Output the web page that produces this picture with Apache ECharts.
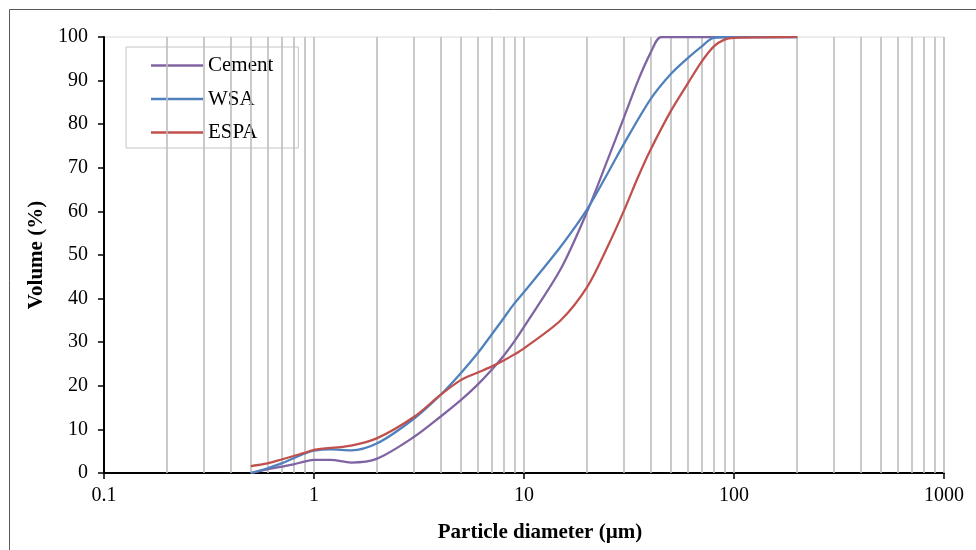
<!DOCTYPE html>
<html>
<head>
<meta charset="utf-8">
<script src="https://cdn.jsdelivr.net/npm/echarts@6/dist/echarts.min.js"></script>
<style>
html,body{margin:0;padding:0;background:#fff;}
#chart{width:976px;height:550px;}
</style>
</head>
<body>
<div id="chart"></div>
<script>
// Vertical grid line positions (µm)
const gridValues = [0.2,0.3,0.4,0.5,0.6,0.7,0.8,0.9,1,2,3,4,5,6,7,8,9,10,20,30,40,50,60,70,80,90,100,200,300,400,500,600,700,800,900,1000];

// Cement
const cementX = [0.5,0.6,0.7,0.8,0.9,1,1.2,1.5,2,3,4,5,6,7,8,9,10,15,20,25,30,35,40,45,60,80,100,200];
const cementY = [0,0.85,1.45,2.0,2.6,3.0,3.0,2.4,3.3,8.3,12.9,16.7,20.2,23.6,26.9,30.2,33.5,46.9,60.0,71.8,81.7,90.1,96.3,100,100,100,100,100];

// WSA
const wsaX = [0.5,0.6,0.7,0.8,0.9,1,1.2,1.5,2,3,4,5,6,7,8,9,10,15,20,25,30,40,50,60,70,80,100,200];
const wsaY = [0,1.1,2.2,3.4,4.4,5.1,5.4,5.2,6.8,12.5,17.9,22.9,27.4,31.7,35.5,38.9,41.5,52.0,60.5,68.7,75.6,85.7,91.5,95.1,97.8,99.8,100,100];

// ESPA
const espaX = [0.5,0.6,0.7,0.8,0.9,1,1.5,2,3,4,5,6,7,8,9,10,15,20,25,30,35,40,50,60,70,80,90,100,200];
const espaY = [1.6,2.2,3.1,3.9,4.6,5.3,6.3,8.0,12.9,17.9,21.3,23.0,24.4,25.8,27.2,28.6,35.1,42.7,51.9,60.3,68.0,74.1,83.0,89.2,94.3,97.8,99.4,99.8,100];

const xMin = 0.1, xMax = 1000;
const yMin = 0, yMax = 100, yStep = 10;
const seriesNames = ['Cement','WSA','ESPA'];

function pairs(xs, ys){ return xs.map((x,i)=>[x, ys[i]]); }

const FONT = 'Liberation Serif';
const chart = echarts.init(document.getElementById('chart'), null, {renderer:'canvas'});

const lineSeries = (name, data, color) => ({
  name: name,
  type: 'line',
  data: data,
  smooth: 0.3,
  symbol: 'none',
  showSymbol: false,
  clip: true,
  z: 5,
  lineStyle: {color: color, width: 2.25},
  itemStyle: {color: color}
});

chart.setOption({
  animation: false,
  backgroundColor: '#fff',
  grid: {left: 104, right: 32, top: 37, bottom: 77, show: true, borderColor: '#d9d9d9', borderWidth: 1, backgroundColor: 'transparent'},
  graphic: [{
    type: 'rect',
    shape: {x: 9.5, y: 9.5, width: 1100, height: 700},
    style: {fill: 'none', stroke: '#595959', lineWidth: 1},
    silent: true,
    z: 0
  }],
  legend: {
    data: seriesNames,
    orient: 'vertical',
    left: 126, top: 47,
    padding: [8, 25, 5, 25],
    icon: 'rect',
    itemWidth: 52, itemHeight: 2.5, itemGap: 12.5,
    backgroundColor: '#fff',
    borderColor: '#c4c4c4', borderWidth: 1,
    textStyle: {fontFamily: FONT, fontSize: 21, color: '#000'},
    selectedMode: false
  },
  xAxis: {
    type: 'log', logBase: 10, min: xMin, max: xMax,
    name: 'Particle diameter (µm)',
    nameLocation: 'middle', nameGap: 49,
    nameTextStyle: {fontFamily: FONT, fontSize: 21, fontWeight: 'bold', color: '#000', padding: [0,0,0,32]},
    axisLine: {show: true, onZero: false, lineStyle: {color: '#000', width: 2}},
    axisTick: {show: true, inside: false, length: 6, lineStyle: {color: '#000', width: 1.5}},
    axisLabel: {fontFamily: FONT, fontSize: 20, color: '#000', margin: 13,
      formatter: v => String(+v.toPrecision(6))},
    splitLine: {show: false},
    minorTick: {show: false}, minorSplitLine: {show: false}
  },
  yAxis: {
    type: 'value', min: yMin, max: yMax, interval: yStep,
    name: 'Volume (%)',
    nameLocation: 'middle', nameGap: 57, nameRotate: 90,
    nameTextStyle: {fontFamily: FONT, fontSize: 21, fontWeight: 'bold', color: '#000'},
    axisLine: {show: true, lineStyle: {color: '#000', width: 2}},
    axisTick: {show: true, inside: false, length: 6, lineStyle: {color: '#000', width: 1.5}},
    axisLabel: {fontFamily: FONT, fontSize: 20, color: '#000', margin: 16},
    splitLine: {show: false}
  },
  series: [
    {
      name: '_grid', type: 'line', data: [[xMin, yMin]], symbol: 'none',
      lineStyle: {width: 0, opacity: 0}, z: 1, silent: true,
      markLine: {
        silent: true, symbol: ['none','none'], animation: false,
        label: {show: false},
        lineStyle: {color: '#bdbdbd', width: 1.6, type: 'solid'},
        emphasis: {disabled: true},
        data: gridValues.map(v => ({xAxis: v}))
      }
    },
    lineSeries('Cement', pairs(cementX, cementY), '#8064a2'),
    lineSeries('WSA', pairs(wsaX, wsaY), '#4f81bd'),
    lineSeries('ESPA', pairs(espaX, espaY), '#c0504d')
  ]
});
</script>
</body>
</html>
